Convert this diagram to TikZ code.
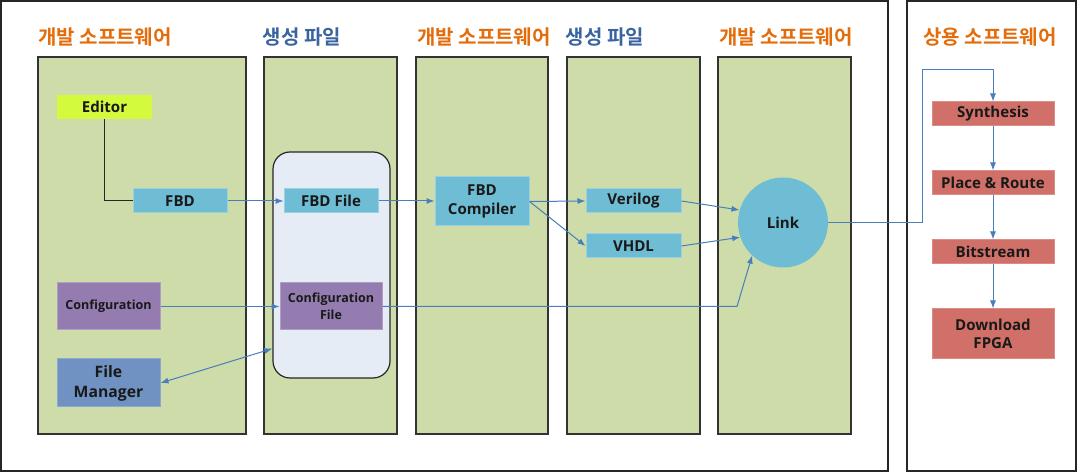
\documentclass[tikz,border=0pt]{standalone}
\usepackage{fontspec}
\setmainfont{Open Sans}
\newfontfamily\kr{Noto Sans CJK KR Bold}
\usetikzlibrary{arrows.meta,calc}
\def\px{0.75pt}
\definecolor{panelg}{RGB}{205,220,168}
\definecolor{edit}{RGB}{212,250,62}
\definecolor{aqua}{RGB}{110,189,213}
\definecolor{purp}{RGB}{148,124,176}
\definecolor{steel}{RGB}{112,146,194}
\definecolor{redb}{RGB}{208,112,104}
\definecolor{lav}{RGB}{230,236,246}
\definecolor{orng}{RGB}{228,108,10}
\definecolor{hblue}{RGB}{58,100,160}
\definecolor{arrc}{RGB}{74,126,187}
\tikzset{
  x=0.75pt, y=-0.75pt,
  frame/.style={draw=black!85, line width=1.4*\px},
  panel/.style={draw=black!80, line width=1.3*\px, fill=panelg},
  boxn/.style={inner sep=0pt, align=center, font=\bfseries\fontsize{11.3}{14}\selectfont, text=black!90},
  aquab/.style={boxn, fill=aqua, draw=aqua!70!white, line width=\px},
  purpb/.style={boxn, fill=purp, draw=purp!75!white, line width=\px, font=\bfseries\fontsize{9.4}{12.5}\selectfont},
  redbx/.style={boxn, fill=redb, draw=redb!80!white, line width=\px, minimum width=122*\px, minimum height=24*\px},
  heado/.style={font=\kr\fontsize{15}{17}\selectfont, text=orng},
  headb/.style={font=\kr\fontsize{15}{17}\selectfont, text=hblue},
  arr/.style={draw=arrc, line width=\px, -{Latex[length=8*\px, width=6*\px]}},
}
\begin{document}
\begin{tikzpicture}
\useasboundingbox (0,0) rectangle (1078,473);
% frames
\draw[frame] (1,1) rectangle (888,471);
\draw[frame] (907,1) rectangle (1076,471);
% panels
\draw[panel] (38,57) rectangle (246,434);
\draw[panel] (264,57) rectangle (397,434);
\draw[panel] (416,57) rectangle (548,434);
\draw[panel] (567,57) rectangle (700,434);
\draw[panel] (718,57) rectangle (851,434);
% headings
\node[heado] (h1) at (105,37) {개발 소프트웨어};
\node[headb] (h2) at (302,37) {생성 파일};
\node[heado] (h3) at (484,37) {개발 소프트웨어};
\node[headb] (h4) at (605,37) {생성 파일};
\node[heado] (h5) at (786,37) {개발 소프트웨어};
\node[heado] (h6) at (990,37) {상용 소프트웨어};
% rounded file box
\node[draw=black!85, line width=1.2*\px, fill=lav, rounded corners=17*\px, minimum width=117*\px, minimum height=226*\px, inner sep=0pt] (rbox) at (331.5,265) {};
% nodes
\node[boxn, fill=edit, minimum width=95*\px, minimum height=24*\px] (editor) at (104.5,107) {Editor};
\node[aquab, minimum width=94*\px, minimum height=24*\px] (fbd) at (180,201) {FBD};
\node[aquab, minimum width=94*\px, minimum height=24*\px] (fbdfile) at (331,201) {FBD File};
\node[aquab, minimum width=94*\px, minimum height=49*\px] (comp) at (482,201.5) {FBD\\Compiler};
\node[aquab, minimum width=95*\px, minimum height=24*\px] (verilog) at (633.5,201) {Verilog};
\node[aquab, minimum width=95*\px, minimum height=24*\px] (vhdl) at (633.5,246) {VHDL};
\node[boxn, circle, fill=aqua, minimum size=90*\px] (link) at (783,222.5) {Link};
\node[purpb, minimum width=103*\px, minimum height=47*\px] (config) at (108.5,306.5) {Configuration};
\node[purpb, minimum width=102*\px, minimum height=47*\px] (cfgfile) at (331,306.5) {Configuration\\File};
\node[boxn, fill=steel, draw=steel!80!white, line width=\px, minimum width=103*\px, minimum height=48*\px, font=\bfseries\fontsize{11.8}{15}\selectfont] (fm) at (108.5,383) {File\\Manager};
\node[redbx] (synth) at (993,114) {Synthesis};
\node[redbx] (pr) at (993,183) {Place \& Route};
\node[redbx] (bits) at (993,252) {Bitstream};
\node[redbx, minimum height=50*\px] (dl) at (993,334) {Download\\FPGA};
% connectors
\draw[black!85, line width=\px] (editor.south) |- (fbd.west);
\draw[arr] (fbd.east) -- (fbdfile.west);
\draw[arr] (fbdfile.east) -- (fbdfile.east -| comp.west);
\draw[arr] (comp.east) -- (verilog.west);
\draw[arr] (comp.east) -- (vhdl.west);
\draw[arr] (verilog.east) -- (link.164);
\draw[arr] (vhdl.east) -- (link.199);
\draw[arr] (config.east) -- (cfgfile.west);
\coordinate (cb) at (737,306.5);
\draw[arr] (cfgfile.east) -- (cb) -- (link.227);
\draw[draw=arrc, line width=\px, {Latex[length=8*\px, width=6*\px]}-{Latex[length=8*\px, width=6*\px]}] (fm.east) -- ($(rbox.south west)+(0,-30)$);
\coordinate (t1) at (922,70);
\draw[arr] (link.east) -| (t1) -| (synth.north);
\draw[arr] (synth) -- (pr);
\draw[arr] (pr) -- (bits);
\draw[arr] (bits) -- (dl);
\end{tikzpicture}
\end{document}
